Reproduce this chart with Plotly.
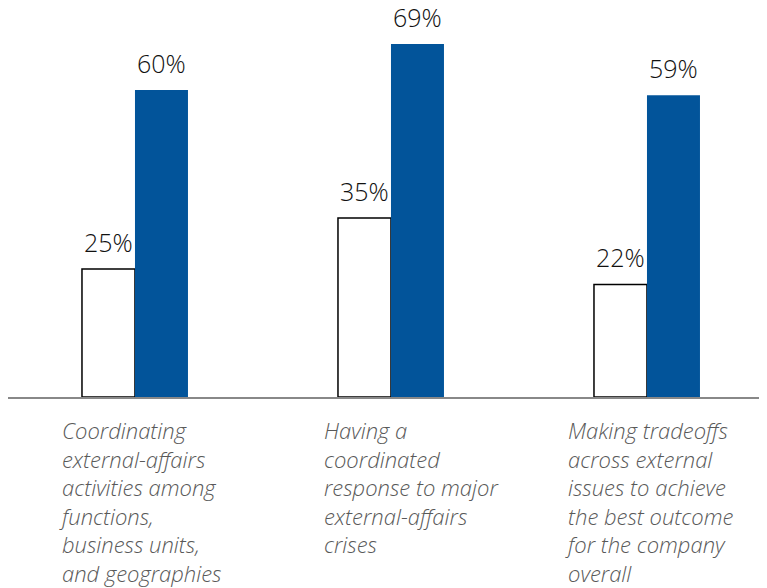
import plotly.graph_objects as go

categories = [
    "Coordinating<br>external-affairs<br>activities among<br>functions,<br>business units,<br>and geographies",
    "Having a<br>coordinated<br>response to major<br>external-affairs<br>crises",
    "Making tradeoffs<br>across external<br>issues to achieve<br>the best outcome<br>for the company<br>overall",
]
series_a = [25, 35, 22]   # white bars
series_b = [60, 69, 59]   # blue bars

# style / layout constants (page has an 8px body margin)
W, H = 759, 580
BASE_Y = 389
LEFT = 0
BAR_W = 0.207
BLUE = "#02549A"
label_xshift = [-78, -69, -84]
LABEL_TOP = 405

xs = list(range(len(categories)))

fig = go.Figure()
fig.add_trace(go.Bar(
    x=xs, y=series_a, width=BAR_W, offset=-BAR_W,
    marker=dict(color="white", line=dict(color="black", width=1.5)),
    showlegend=False, hoverinfo="skip",
))
fig.add_trace(go.Bar(
    x=xs, y=series_b, width=BAR_W, offset=0,
    marker=dict(color=BLUE, line=dict(width=0)),
    showlegend=False, hoverinfo="skip",
))

annotations = []
for i, (a, b) in enumerate(zip(series_a, series_b)):
    for val, dx in ((a, -BAR_W / 2), (b, BAR_W / 2)):
        annotations.append(dict(
            x=i + dx, y=val, xref="x", yref="y", text=f"{val}%",
            showarrow=False, yanchor="bottom", xanchor="center", yshift=8,
            font=dict(family="Open Sans", size=25, color="#111111", weight=300),
        ))
    annotations.append(dict(
        x=i, xref="x", y=-(LABEL_TOP - BASE_Y) / BASE_Y, yref="paper",
        text="<i>" + categories[i].replace("<br>", "</i><br><i>") + "</i>",
        showarrow=False, xanchor="left", yanchor="top", align="left",
        xshift=label_xshift[i],
        font=dict(family="Open Sans", size=22, color="#595959", weight=300),
    ))

fig.update_layout(
    width=W, height=H,
    margin=dict(l=LEFT, r=0, t=0, b=H - BASE_Y, pad=0),
    paper_bgcolor="white", plot_bgcolor="white",
    barmode="overlay",
    xaxis=dict(range=[-0.496, -0.496 + (W - LEFT) / 256], showticklabels=False,
               showgrid=False, zeroline=False, showline=True, linecolor="#888888",
               linewidth=2, ticks=""),
    yaxis=dict(range=[0, BASE_Y / 5.116], visible=False, showgrid=False, zeroline=False),
    annotations=annotations,
)

fig.write_html("out.html")
